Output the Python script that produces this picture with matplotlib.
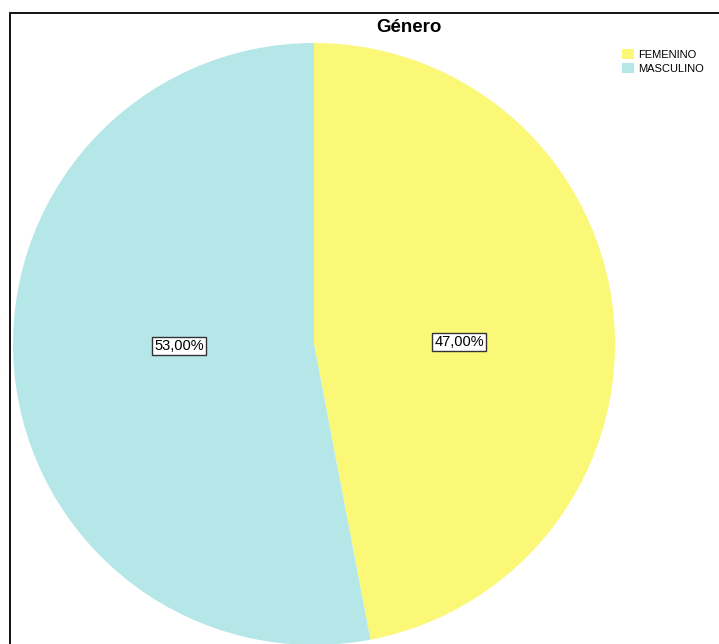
import matplotlib.pyplot as plt
from matplotlib.patches import Rectangle

plt.rcParams['font.family'] = ['Liberation Sans', 'DejaVu Sans']

# Data
labels = ["FEMENINO", "MASCULINO"]
values = [47.0, 53.0]
colors = ["#FBF877", "#B5E7E8"]

W, H = 719, 644
fig = plt.figure(figsize=(W / 100, H / 100), dpi=100)

# outer frame (pixel coords -> figure fraction)
frame = Rectangle((9.5 / W, -0.05), 1.2, 1 - 12.5 / H + 0.05,
                  transform=fig.transFigure, fill=False,
                  edgecolor="black", linewidth=1.3, clip_on=False)
fig.patches.append(frame)

# pie axes: center (314, 344), radius 301 px
r = 301
cx, cy = 314, 344
ax = fig.add_axes([(cx - r) / W, (H - cy - r) / H, 2 * r / W, 2 * r / H])

wedges, texts, autotexts = ax.pie(
    values, colors=colors, startangle=90, counterclock=False,
    autopct=lambda p: f"{p:.2f}%".replace(".", ","),
    pctdistance=0.47, wedgeprops=dict(linewidth=0),
    textprops=dict(fontsize=10.5))

# SPSS-style label placement: pulled toward the horizontal centre line
for t in autotexts:
    x, y = t.get_position()
    t.set_position((x * 1.03 if x > 0 else x * 0.96, y * 0.15))
    t.set_bbox(dict(boxstyle="square,pad=0.15", facecolor="white",
                    edgecolor="#333333", linewidth=1.0))
ax.set_xlim(-1, 1)
ax.set_ylim(-1, 1)
ax.set_aspect("equal")

fig.text(409 / W, 1 - 28 / H, "Género", ha="center", va="center",
         fontsize=13.5, fontweight="bold")

fig.legend(wedges, labels, loc="upper left",
           bbox_to_anchor=(614 / W, 1 - 41 / H), frameon=False,
           fontsize=8, handlelength=1.1, handleheight=1.1,
           handletextpad=0.35, labelspacing=0.25, borderpad=0.2)

fig.savefig("out.png", dpi=100)
